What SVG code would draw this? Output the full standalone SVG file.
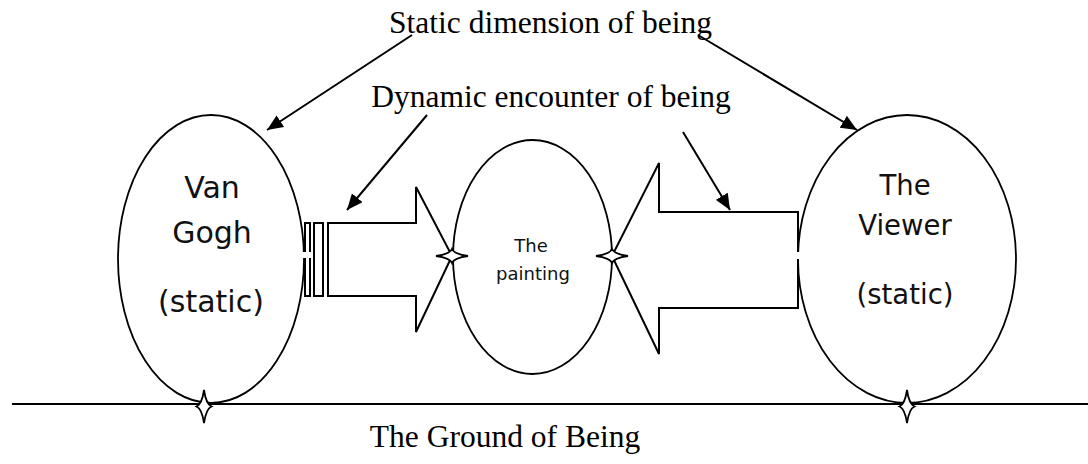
<svg xmlns="http://www.w3.org/2000/svg" width="1088" height="464" viewBox="0 0 1088 464">
<style>
.ln{fill:none;stroke:#000;stroke-width:2}
.el{fill:none;stroke:#000;stroke-width:1.8}
.star{fill:#fff;stroke:#000;stroke-width:1.8;stroke-linejoin:miter}
.tnr{font-family:"Liberation Serif","Times New Roman",serif;fill:#000;text-anchor:middle}
.lbl{font-family:"DejaVu Sans","Noto Sans",sans-serif;fill:#111;text-anchor:middle}
</style>
<defs>
<marker id="ah" markerUnits="userSpaceOnUse" markerWidth="18" markerHeight="14" refX="16" refY="7" orient="auto">
<path d="M0,0 L16,7 L0,14 Z" fill="#000"/>
</marker>
</defs>
<rect width="1088" height="464" fill="#fff"/>
<g id="ground">
<line class="ln" x1="12" y1="404" x2="1088" y2="404"/>
</g>
<g id="arrow-vangogh-painting">
<rect class="ln" x="305" y="223" width="5" height="73"/>
<rect class="ln" x="314" y="223" width="9" height="73"/>
<path class="ln" d="M328,223 H416 V187 L452,256 L416,332 V296 H328 Z"/>
</g>
<g id="arrow-viewer-painting">
<path class="ln" d="M798,212 H659 V163 L612,256 L659,354 V308 H798 Z"/>
</g>
<g id="vangogh">
<ellipse class="el" cx="211" cy="259" rx="93" ry="144"/>
<text class="lbl" x="212" y="198" font-size="30">Van</text>
<text class="lbl" x="212" y="243" font-size="30">Gogh</text>
<text class="lbl" x="211" y="312" font-size="30">(static)</text>
</g>
<g id="painting">
<ellipse class="el" cx="532.5" cy="257" rx="79.5" ry="117"/>
<text class="lbl" x="531" y="252" font-size="18">The</text>
<text class="lbl" x="533" y="280" font-size="18">painting</text>
</g>
<g id="viewer">
<ellipse class="el" cx="907" cy="259" rx="109" ry="144"/>
<text class="lbl" x="905" y="195" font-size="27.5">The</text>
<text class="lbl" x="905" y="235" font-size="27.5">Viewer</text>
<text class="lbl" x="905" y="304" font-size="27.5">(static)</text>
</g>
<g id="gaps" fill="#fff">
<rect x="302" y="252" width="10" height="6"/>
<rect x="795" y="252" width="6" height="7"/>
</g>
<g id="stars">
<path class="star" d="M436,256 Q450,254 452,249 Q454,254 468,256 Q454,258 452,263 Q450,258 436,256 Z"/>
<path class="star" d="M596,256 Q610,254 612,249 Q614,254 628,256 Q614,258 612,263 Q610,258 596,256 Z"/>
<path class="star" d="M204,390 Q206,404 211.5,406.5 Q206,409 204,423 Q202,409 196.5,406.5 Q202,404 204,390 Z"/>
<path class="star" d="M907,390 Q909,404 914.5,406.5 Q909,409 907,423 Q905,409 899.5,406.5 Q905,404 907,390 Z"/>
</g>
<g id="labels">
<text class="tnr" x="550.5" y="33" font-size="31.5">Static dimension of being</text>
<text class="tnr" x="551" y="107" font-size="31.5">Dynamic encounter of being</text>
<text class="tnr" x="505" y="447" font-size="31.5">The Ground of Being</text>
</g>
<g id="connectors">
<line class="ln" x1="412" y1="35" x2="267" y2="130" marker-end="url(#ah)"/>
<line class="ln" x1="698" y1="35" x2="857" y2="130" marker-end="url(#ah)"/>
<line class="ln" x1="427" y1="115" x2="347" y2="210" marker-end="url(#ah)"/>
<line class="ln" x1="683" y1="132" x2="730" y2="210" marker-end="url(#ah)"/>
</g>
</svg>
